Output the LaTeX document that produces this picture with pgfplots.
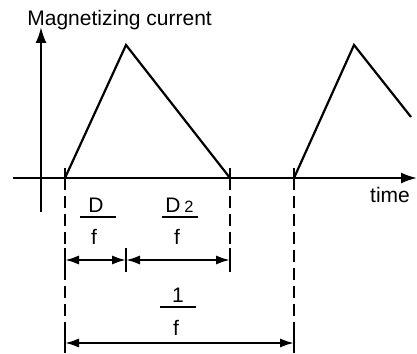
\documentclass[border=0pt]{standalone}
\usepackage{pgfplots}
\pgfplotsset{compat=1.18}
\usetikzlibrary{arrows.meta}
\usepackage{fontspec}
\setmainfont{Liberation Sans}

\begin{document}
\begin{tikzpicture}[font=\fontsize{10.5}{12}\selectfont]
  % 1 unit = 1 px of the reference, y measured from the bottom
  \begin{axis}[
    hide axis,
    x=0.5pt, y=0.5pt,
    xmin=0, xmax=417, ymin=0, ymax=353,
    clip=false,
    cycle list={{black, line width=1.1pt, no markers}},
    every axis plot/.append style={black, line width=1.1pt, no markers},
    dimtip/.style={{Latex[length=7pt,width=4.6pt]}-{Latex[length=7pt,width=4.6pt]}},
    dashed line/.style={dash pattern=on 6pt off 3pt},
  ]
    \coordinate (ll) at (axis cs:0,0);
    \coordinate (ur) at (axis cs:417,353);

    % axes
    \addplot[-{Latex[length=8pt,width=5.5pt]}] coordinates {(13,175) (417,175)};
    \addplot[-{Latex[length=8pt,width=5.5pt]}] coordinates {(41,141) (41,326)};

    % magnetizing current
    \addplot[black] coordinates {(65,175) (126,308) (230,175)};
    \addplot[black] coordinates {(294,175) (354,308) (411,236)};

    % ticks on the time axis
    \addplot[black] coordinates {(65,167) (65,185)};
    \addplot[black] coordinates {(230,167) (230,185)};
    \addplot[black] coordinates {(294,167) (294,185)};

    % dashed guides
    \addplot[dashed line] coordinates {(65,175) (65,0)};
    \addplot[dashed line] coordinates {(230,175) (230,83)};
    \addplot[dashed line] coordinates {(294,175) (294,0)};

    % dimension lines and their end bars
    \addplot[dimtip] coordinates {(65,93) (126,93)};
    \addplot[dimtip] coordinates {(126,93) (230,93)};
    \addplot[dimtip] coordinates {(65,10) (294,10)};
    \addplot[black] coordinates {(65,81) (65,105)};
    \addplot[black] coordinates {(126,81) (126,105)};
    \addplot[black] coordinates {(230,81) (230,105)};
    \addplot[black] coordinates {(65,0) (65,22)};
    \addplot[black] coordinates {(294,0) (294,22)};

    % fraction bars
    \addplot[black] coordinates {(80,136) (116,136)};
    \addplot[black] coordinates {(162,136) (198,136)};
    \addplot[black] coordinates {(160,46) (196,46)};

    % labels
    \node[anchor=base west, inner sep=0] at (axis cs:27,327) {Magnetizing current};
    \node[anchor=base, inner sep=0] at (axis cs:390,150) {time};
    \node[anchor=base, inner sep=0] at (axis cs:96,140) {D};
    \node[anchor=base, inner sep=0] at (axis cs:94,108) {f};
    \node[anchor=base, inner sep=0] at (axis cs:173,140) {D};
    \node[anchor=base, inner sep=0, font=\fontsize{8.2}{10}\selectfont] at (axis cs:189,140) {2};
    \node[anchor=base, inner sep=0] at (axis cs:177,108) {f};
    \node[anchor=base, inner sep=0] at (axis cs:178,50) {1};
    \node[anchor=base, inner sep=0] at (axis cs:176,18) {f};
  \end{axis}
  \pgfresetboundingbox
  \path (ll) rectangle (ur);
\end{tikzpicture}
\end{document}
